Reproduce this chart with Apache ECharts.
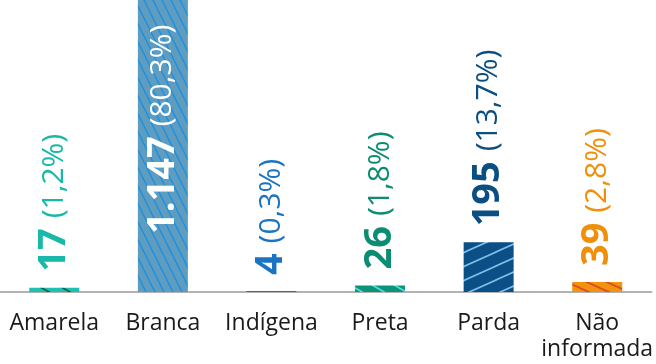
<!DOCTYPE html>
<html>
<head>
<meta charset="utf-8">
<script src="https://cdn.jsdelivr.net/npm/echarts@6/dist/echarts.min.js"></script>
<style>
html,body{margin:0;padding:0;background:#fff;}
#chart{width:656px;height:364px;}
</style>
</head>
<body>
<div id="chart"></div>
<script>
const categories = ['Amarela', 'Branca', 'Indígena', 'Preta', 'Parda', 'Não\ninformada'];
const counts = [17, 1147, 4, 26, 195, 39];
const countLabels = ['17', '1.147', '4', '26', '195', '39'];
const percentLabels = ['1,2%', '80,3%', '0,3%', '1,8%', '13,7%', '2,8%'];

function hatch(bg, line, w, h, dir, lw) {
  const c = document.createElement('canvas');
  c.width = w; c.height = h;
  const ctx = c.getContext('2d');
  ctx.fillStyle = bg;
  ctx.fillRect(0, 0, w, h);
  if (line) {
    ctx.strokeStyle = line;
    ctx.lineWidth = lw;
    for (let k = -2; k <= 2; k++) {
      ctx.beginPath();
      if (dir === '\\') {
        ctx.moveTo(k * w - w, -h);
        ctx.lineTo(k * w + 2 * w, 2 * h);
      } else {
        ctx.moveTo(k * w - w, 2 * h);
        ctx.lineTo(k * w + 2 * w, -h);
      }
      ctx.stroke();
    }
  }
  return { image: c, repeat: 'repeat' };
}

const fills = [
  hatch('#1cc1b1', '#0f5c4c', 21, 12, '\\', 1.6),
  hatch('#5e9cc0', '#1a8fe2', 9, 18, '\\', 1.4),
  '#1a74c2',
  hatch('#0b9479', '#55dede', 22, 13, '\\', 1.6),
  hatch('#0a4f86', '#80bfe8', 31, 14, '/', 1.6),
  hatch('#f29310', '#d8482a', 20, 9, '\\', 1.6)
];
const labelColors = ['#1ab8a8', '#ffffff', '#1a74c2', '#0c8c72', '#0b4f82', '#f0900a'];

const data = counts.map((v, i) => {
  const inside = i === 1;
  return {
    value: v,
    itemStyle: { color: fills[i] },
    label: {
      show: true,
      position: inside ? 'insideBottom' : 'top',
      distance: inside ? 58 : 16,
      rotate: 90,
      align: 'left',
      verticalAlign: 'middle',
      color: labelColors[i],
      fontFamily: 'Open Sans',
      fontSize: 30,
      formatter: '{n|' + countLabels[i] + '}{s| }{p|(' + percentLabels[i] + ')}',
      rich: {
        n: { fontFamily: 'Open Sans', fontWeight: 'bold', fontSize: 38, color: labelColors[i] },
        s: { fontFamily: 'Open Sans', fontSize: 38, color: labelColors[i] },
        p: { fontFamily: 'Open Sans', fontSize: 30, color: labelColors[i] }
      }
    }
  };
});

const chart = echarts.init(document.getElementById('chart'), null, { renderer: 'canvas' });
chart.setOption({
  animation: false,
  grid: { left: 0, right: 3, top: 0, bottom: 72, containLabel: false },
  xAxis: {
    type: 'category',
    data: categories,
    axisLine: { show: true, lineStyle: { color: '#b3b3b3', width: 2 } },
    axisTick: { show: false },
    axisLabel: {
      color: '#1a1a1a',
      fontFamily: 'Open Sans',
      fontSize: 23,
      lineHeight: 26,
      margin: 18,
      interval: 0
    }
  },
  yAxis: {
    type: 'value',
    min: 0,
    max: 1147,
    show: false,
    splitLine: { show: false }
  },
  series: [{
    type: 'bar',
    data: data,
    barWidth: 50
  }]
});
</script>
</body>
</html>
